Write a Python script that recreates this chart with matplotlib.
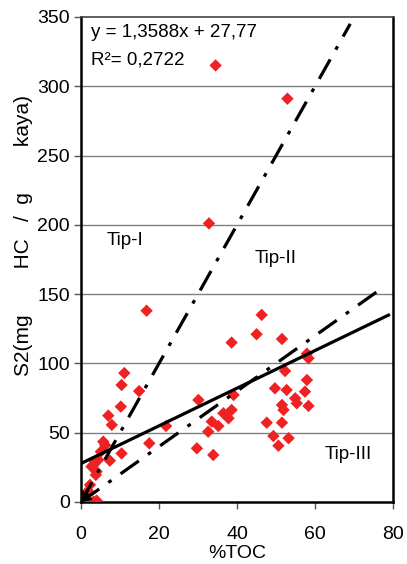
import matplotlib
matplotlib.use("Agg")
import matplotlib.pyplot as plt
import numpy as np

plt.rcParams['font.family'] = ['Liberation Sans', 'DejaVu Sans']

toc = [34.5, 52.9, 32.8, 16.8, 46.3, 45.0, 51.5, 38.6, 58.3, 57.9,
       52.3, 11.1, 10.4, 57.9, 49.7, 52.7, 57.4, 14.9, 39.1, 54.9,
       55.3, 30.1, 51.5, 51.9, 58.3, 10.2, 38.6, 36.5, 7.0, 37.8,
       33.5, 47.6, 51.5, 7.9, 35.2, 21.8, 32.6, 49.3, 53.2, 5.7,
       6.2, 17.5, 50.6, 29.7, 5.1, 10.4, 33.9, 7.4, 4.4, 3.6,
       3.2, 2.7, 4.0, 3.8, 2.3, 1.8, 1.0, 2.0, 3.2, 4.0]
s2 = [315, 291, 201, 138, 135, 121, 117.6, 115, 103.7, 107,
      94.5, 93, 84.4, 88, 82, 80.8, 79.6, 80, 77.2, 74.8,
      71.2, 73.6, 70, 66.4, 69.3, 68.8, 66.4, 64, 62.3, 60.4,
      58, 57.2, 57.2, 55.6, 54.8, 54.8, 50.7, 47.6, 46, 43.5,
      41, 42.3, 40.6, 38.7, 36.3, 35, 33.9, 29.8, 30.3, 29,
      26.7, 25.5, 21.9, 19.5, 12.3, 8, 3, 0.5, 0.2, 1]

fit_slope, fit_intercept = 1.3588, 27.77
hi_lines = [500, 200]          # HI boundaries (mg HC/g TOC)
hi_xmax = [69.0, 76.5]
xticks = [0, 20, 40, 60, 80]
yticks = [0, 50, 100, 150, 200, 250, 300, 350]
type_labels = ["Tip-I", "Tip-II", "Tip-III"]
type_pos = [(6.5, 189), (44.5, 176), (62.5, 34)]

fig = plt.figure(figsize=(4.07, 5.64), dpi=100)
ax = fig.add_axes([0.199, 0.110, 0.767, 0.860])

ax.set_xlim(0, 80)
ax.set_ylim(0, 350)
for y in yticks[1:-1]:
    ax.axhline(y, color='#808080', lw=1.0, zorder=0)

ax.scatter(toc, s2, marker='D', s=40, color='#ee2222', edgecolors='none', zorder=3)

# HI boundary lines (dash-dot)
for hi, xm in zip(hi_lines, hi_xmax):
    xs = np.array([0, xm])
    ax.plot(xs, xs * hi / 100, color='black', lw=2.3,
            linestyle=(0, (7, 3.5, 1.2, 3.5)), zorder=4, solid_capstyle='butt')
    ax.annotate('', xy=(0, 0), xytext=(1.6, 1.6 * hi / 100 if hi == 500 else 3.2),
                arrowprops=dict(arrowstyle='->', lw=2, color='black',
                                mutation_scale=12, shrinkA=0, shrinkB=0), zorder=5)

# regression line
xf = np.array([0, 78.8])
ax.plot(xf, fit_slope * xf + fit_intercept, color='black', lw=2.3, zorder=4)

ax.text(2.5, 338.5, "y = 1,3588x + 27,77", fontsize=13.5, va='center', ha='left')
ax.text(2.5, 319, "R²= 0,2722", fontsize=13.5, va='center', ha='left')

for lab, (x, y) in zip(type_labels, type_pos):
    ax.text(x, y, lab, fontsize=13.5, va='center', ha='left')

ax.set_xticks(xticks)
ax.set_yticks(yticks)
ax.tick_params(axis='both', direction='out', length=5, width=1, labelsize=14, color='#555555')
ax.tick_params(axis='x', pad=12)
ax.tick_params(axis='y', pad=3)
for sp in ['left', 'right', 'bottom']:
    ax.spines[sp].set_linewidth(1.8)
    ax.spines[sp].set_color('black')
ax.spines['top'].set_linewidth(1.2)
ax.spines['top'].set_color('#444444')

ax.set_xlabel("%TOC", fontsize=14, labelpad=2)
ax.set_ylabel("S2(mg        HC   /  g        kaya)", fontsize=15)
ax.yaxis.set_label_coords(-0.155, 0.55)

fig.savefig("out.png", dpi=100)
